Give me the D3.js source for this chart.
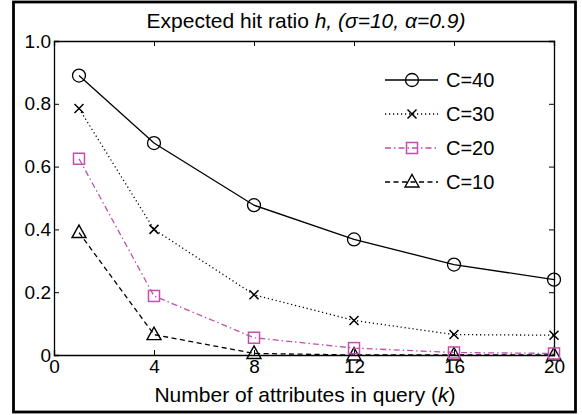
<!DOCTYPE html>
<html>
<head>
<meta charset="utf-8">
<script src="https://cdn.jsdelivr.net/npm/d3@7"></script>
<style>
  body { margin: 0; background: #fff; }
  svg { font-family: "Liberation Sans", Arial, sans-serif; }
</style>
</head>
<body>
<div id="chart"></div>
<script>
// data
const kValues = [1, 4, 8, 12, 16, 20];
const c40 = [0.89, 0.675, 0.477, 0.368, 0.288, 0.24];
const c30 = [0.785, 0.40, 0.192, 0.11, 0.065, 0.063];
const c20 = [0.625, 0.188, 0.055, 0.022, 0.008, 0.005];
const c10 = [0.39, 0.065, 0.005, 0.0, 0.0, 0.0];
const seriesNames = ["C=40", "C=30", "C=20", "C=10"];
const xTicks = [0, 4, 8, 12, 16, 20];
const yTicks = [0, 0.2, 0.4, 0.6, 0.8, 1.0];

const width = 582, height = 415;
const margin = { left: 54, right: 28, top: 41, bottom: 60 };

const svg = d3.select("#chart").append("svg")
    .attr("width", width)
    .attr("height", height);

// outer frame
svg.append("rect")
    .attr("x", 13.5).attr("y", 2)
    .attr("width", 562).attr("height", 410)
    .attr("fill", "none").attr("stroke", "#000").attr("stroke-width", 2.8);

const x = d3.scaleLinear().domain([0, 20]).range([margin.left, width - margin.right]);
const y = d3.scaleLinear().domain([0, 1]).range([height - margin.bottom, margin.top]);

const series = [
    { name: seriesNames[0], values: c40, color: "#000", dash: null, marker: "circle" },
    { name: seriesNames[1], values: c30, color: "#000", dash: "1.2,2.8", marker: "cross" },
    { name: seriesNames[2], values: c20, color: "#c24fae", dash: "6,3,1.5,3", marker: "square" },
    { name: seriesNames[3], values: c10, color: "#000", dash: "5,3.5", marker: "triangle" }
];

// axes: ticks pointing inward, mirrored on top/right
const fmtY = d => d === 0 ? "0" : d3.format(".1f")(d);
const tickLen = 5;

svg.append("g")
    .attr("transform", `translate(0,${y(0)})`)
    .call(d3.axisBottom(x).tickValues(xTicks).tickSize(-tickLen).tickPadding(3))
    .call(g => g.selectAll("text").attr("font-size", 19).attr("dy", "0.8em"));
svg.append("g")
    .attr("transform", `translate(0,${y(1)})`)
    .call(d3.axisTop(x).tickValues(xTicks).tickSize(-tickLen).tickFormat(""));
svg.append("g")
    .attr("transform", `translate(${x(0)},0)`)
    .call(d3.axisLeft(y).tickValues(yTicks).tickSize(-tickLen).tickFormat(fmtY).tickPadding(3))
    .call(g => g.selectAll("text").attr("font-size", 19));
svg.append("g")
    .attr("transform", `translate(${x(20)},0)`)
    .call(d3.axisRight(y).tickValues(yTicks).tickSize(-tickLen).tickFormat(""));

svg.selectAll(".domain").attr("stroke", "#000").attr("stroke-width", 1.3);
svg.selectAll(".tick line").attr("stroke", "#000");
svg.selectAll(".tick text").attr("fill", "#000");

function drawMarker(g, type, color) {
    if (type === "circle") {
        g.append("circle").attr("r", 6.5).attr("fill", "none").attr("stroke", color).attr("stroke-width", 1.3);
    } else if (type === "cross") {
        g.append("path").attr("d", "M-4.5,-4.5L4.5,4.5M-4.5,4.5L4.5,-4.5")
            .attr("stroke", color).attr("stroke-width", 1.5).attr("fill", "none");
    } else if (type === "square") {
        g.append("rect").attr("x", -5.5).attr("y", -5.5).attr("width", 11).attr("height", 11)
            .attr("fill", "none").attr("stroke", color).attr("stroke-width", 1.5);
    } else {
        g.append("path").attr("d", "M0,-7.5L7,5L-7,5Z")
            .attr("fill", "none").attr("stroke", color).attr("stroke-width", 1.4);
    }
}

const line = d3.line().x((d, i) => x(kValues[i])).y(d => y(d));

// draw bottom series first so C=40 ends on top
series.slice().reverse().forEach(s => {
    svg.append("path")
        .datum(s.values)
        .attr("d", line)
        .attr("fill", "none")
        .attr("stroke", s.color)
        .attr("stroke-width", 1.3)
        .attr("stroke-dasharray", s.dash);
    s.values.forEach((v, i) => {
        const g = svg.append("g").attr("transform", `translate(${x(kValues[i])},${y(v)})`);
        drawMarker(g, s.marker, s.color);
    });
});

// legend
const legend = svg.append("g").attr("transform", "translate(385,80)");
series.forEach((s, i) => {
    const row = legend.append("g").attr("transform", `translate(0,${i * 34})`);
    row.append("line").attr("x1", 0).attr("x2", 53).attr("y1", 0).attr("y2", 0)
        .attr("stroke", s.color).attr("stroke-width", 1.3).attr("stroke-dasharray", s.dash);
    drawMarker(row.append("g").attr("transform", "translate(27,0)"), s.marker, s.color);
    row.append("text").attr("x", 61).attr("y", 0).attr("dy", "0.35em")
        .attr("font-size", 20).text(s.name);
});

// title
const title = svg.append("text")
    .attr("x", 306).attr("y", 28)
    .attr("text-anchor", "middle")
    .attr("font-size", 21);
title.append("tspan").text("Expected hit ratio ");
title.append("tspan").attr("font-style", "italic").text("h, (σ=10, α=0.9)");

// x label
const xl = svg.append("text")
    .attr("x", 305).attr("y", 402)
    .attr("text-anchor", "middle")
    .attr("font-size", 21);
xl.append("tspan").text("Number of attributes in query (");
xl.append("tspan").attr("font-style", "italic").text("k");
xl.append("tspan").text(")");
</script>
</body>
</html>
